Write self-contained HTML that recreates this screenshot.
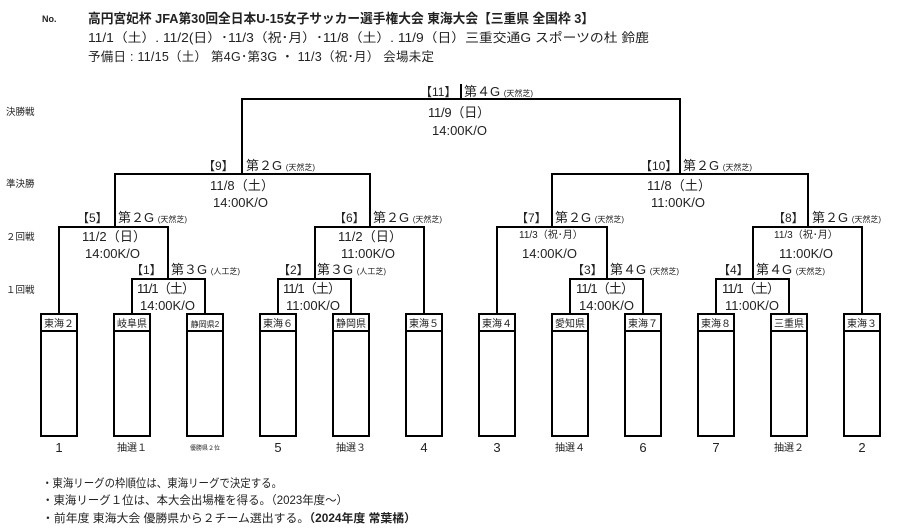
<!DOCTYPE html>
<html><head><meta charset="utf-8"><style>
html,body{margin:0;padding:0;background:#fff;}
svg{display:block;}
text{font-family:"Liberation Sans","Noto Sans CJK JP",sans-serif;fill:#222;}
</style></head><body>
<svg width="900" height="532" viewBox="0 0 900 532" xmlns="http://www.w3.org/2000/svg">
<text x="42" y="22" font-size="9" font-weight="bold">No.</text>
<text x="88" y="23" font-size="13" font-weight="bold" textLength="506" lengthAdjust="spacingAndGlyphs">高円宮妃杯 JFA第30回全日本U-15女子サッカー選手権大会  東海大会【三重県  全国枠 3】</text>
<text x="88" y="42" font-size="12.5" textLength="561" lengthAdjust="spacingAndGlyphs">11/1（土）. 11/2(日）･11/3（祝･月）･11/8（土）. 11/9（日）三重交通G スポーツの杜 鈴鹿</text>
<text x="88" y="61" font-size="12.5" textLength="346" lengthAdjust="spacing">予備日 : 11/15（土）      第4G･第3G    ・   11/3（祝･月）   会場未定</text>

<g font-size="9.5">
<text x="6" y="115">決勝戦</text>
<text x="6" y="187">準決勝</text>
<text x="6" y="240">２回戦</text>
<text x="6" y="293">１回戦</text>
</g>

<g stroke="#000" stroke-width="2" fill="none">
<polyline points="242,174 242,99 680,99 680,174"/>
<line x1="461" y1="84" x2="461" y2="99"/>
<polyline points="115,227 115,174 370,174 370,227"/>
<polyline points="552,227 552,174 808,174 808,227"/>
<polyline points="59,314 59,227 168,227 168,279"/>
<polyline points="315,279 315,227 424,227 424,314"/>
<polyline points="497,314 497,227 607,227 607,279"/>
<polyline points="753,279 753,227 862,227 862,314"/>
<polyline points="132,314 132,279 205,279 205,314"/>
<polyline points="278,314 278,279 351,279 351,314"/>
<polyline points="570,314 570,279 643,279 643,314"/>
<polyline points="716,314 716,279 789,279 789,314"/>
<rect x="41" y="314" width="36" height="122"/><line x1="41" y1="331" x2="77" y2="331"/>
<rect x="114" y="314" width="36" height="122"/><line x1="114" y1="331" x2="150" y2="331"/>
<rect x="187" y="314" width="36" height="122"/><line x1="187" y1="331" x2="223" y2="331"/>
<rect x="260" y="314" width="36" height="122"/><line x1="260" y1="331" x2="296" y2="331"/>
<rect x="333" y="314" width="36" height="122"/><line x1="333" y1="331" x2="369" y2="331"/>
<rect x="406" y="314" width="36" height="122"/><line x1="406" y1="331" x2="442" y2="331"/>
<rect x="479" y="314" width="36" height="122"/><line x1="479" y1="331" x2="515" y2="331"/>
<rect x="552" y="314" width="36" height="122"/><line x1="552" y1="331" x2="588" y2="331"/>
<rect x="625" y="314" width="36" height="122"/><line x1="625" y1="331" x2="661" y2="331"/>
<rect x="698" y="314" width="36" height="122"/><line x1="698" y1="331" x2="734" y2="331"/>
<rect x="771" y="314" width="36" height="122"/><line x1="771" y1="331" x2="807" y2="331"/>
<rect x="844" y="314" width="36" height="122"/><line x1="844" y1="331" x2="880" y2="331"/>
</g>

<g font-size="10" text-anchor="middle">
<text x="59" y="327">東海２</text>
<text x="132" y="327">岐阜県</text>
<text x="205" y="327" font-size="8">静岡県2</text>
<text x="278" y="327">東海６</text>
<text x="351" y="327">静岡県</text>
<text x="424" y="327">東海５</text>
<text x="497" y="327">東海４</text>
<text x="570" y="327">愛知県</text>
<text x="643" y="327">東海７</text>
<text x="716" y="327">東海８</text>
<text x="789" y="327">三重県</text>
<text x="862" y="327">東海３</text>
</g>
<g text-anchor="middle" font-size="13">
<text x="59" y="452">1</text>
<text x="132" y="451" font-size="10">抽選１</text>
<text x="205" y="450" font-size="6">優勝県２位</text>
<text x="278" y="452">5</text>
<text x="351" y="451" font-size="10">抽選３</text>
<text x="424" y="452">4</text>
<text x="497" y="452">3</text>
<text x="570" y="451" font-size="10">抽選４</text>
<text x="643" y="452">6</text>
<text x="716" y="452">7</text>
<text x="789" y="451" font-size="10">抽選２</text>
<text x="862" y="452">2</text>
</g>

<g font-size="13">
<text x="420" y="96" font-size="12">【11】</text>
<text x="464" y="96">第４G <tspan font-size="8">(天然芝)</tspan></text>
<text x="428" y="117" textLength="62">11/9（日）</text>
<text x="432" y="135">14:00K/O</text>
<text x="203" y="170" font-size="12">【9】</text>
<text x="246" y="170">第２G <tspan font-size="8">(天然芝)</tspan></text>
<text x="210" y="190" textLength="64">11/8（土）</text>
<text x="213" y="207">14:00K/O</text>
<text x="640" y="170" font-size="12">【10】</text>
<text x="683" y="170">第２G <tspan font-size="8">(天然芝)</tspan></text>
<text x="647" y="190" textLength="64">11/8（土）</text>
<text x="651" y="207">11:00K/O</text>
<text x="77" y="222" font-size="12">【5】</text>
<text x="118" y="222">第２G <tspan font-size="8">(天然芝)</tspan></text>
<text x="82" y="241" textLength="64">11/2（日）</text>
<text x="85" y="258">14:00K/O</text>
<text x="334" y="222" font-size="12">【6】</text>
<text x="373" y="222">第２G <tspan font-size="8">(天然芝)</tspan></text>
<text x="338" y="241" textLength="64">11/2（日）</text>
<text x="341" y="258">11:00K/O</text>
<text x="516" y="222" font-size="12">【7】</text>
<text x="555" y="222">第２G <tspan font-size="8">(天然芝)</tspan></text>
<text x="519" y="238" font-size="10">11/3（祝･月）</text>
<text x="522" y="258">14:00K/O</text>
<text x="773" y="222" font-size="12">【8】</text>
<text x="812" y="222">第２G <tspan font-size="8">(天然芝)</tspan></text>
<text x="774" y="238" font-size="10">11/3（祝･月）</text>
<text x="779" y="258">11:00K/O</text>
<text x="131" y="274" font-size="12">【1】</text>
<text x="171" y="274">第３G <tspan font-size="8">(人工芝)</tspan></text>
<text x="137" y="293" textLength="58">11/1（土）</text>
<text x="140" y="310">14:00K/O</text>
<text x="278" y="274" font-size="12">【2】</text>
<text x="317" y="274">第３G <tspan font-size="8">(人工芝)</tspan></text>
<text x="283" y="293" textLength="58">11/1（土）</text>
<text x="286" y="310">11:00K/O</text>
<text x="572" y="274" font-size="12">【3】</text>
<text x="610" y="274">第４G <tspan font-size="8">(天然芝)</tspan></text>
<text x="576" y="293" textLength="58">11/1（土）</text>
<text x="579" y="310">14:00K/O</text>
<text x="718" y="274" font-size="12">【4】</text>
<text x="756" y="274">第４G <tspan font-size="8">(天然芝)</tspan></text>
<text x="722" y="293" textLength="58">11/1（土）</text>
<text x="725" y="310">11:00K/O</text>
</g>

<g font-size="11.5">
<text x="42" y="487" textLength="240" lengthAdjust="spacingAndGlyphs">・東海リーグの枠順位は、東海リーグで決定する。</text>
<text x="42" y="504" textLength="306" lengthAdjust="spacingAndGlyphs">・東海リーグ１位は、本大会出場権を得る。（2023年度～）</text>
<text x="42" y="522" textLength="374" lengthAdjust="spacingAndGlyphs">・前年度 東海大会 優勝県から２チーム選出する。<tspan font-weight="bold">（2024年度 常葉橘）</tspan></text>
</g>
</svg>
</body></html>
